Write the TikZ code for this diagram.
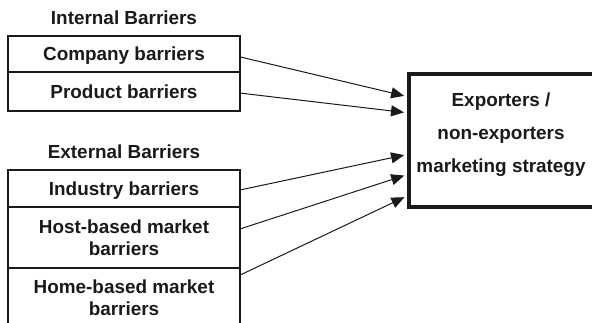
\documentclass[tikz,border=0pt]{standalone}
\usepackage{fontspec}
\setmainfont{Liberation Sans}
\usetikzlibrary{arrows.meta,calc}
\definecolor{ink}{RGB}{26,26,26}
\begin{document}
\begin{tikzpicture}[x=1bp,y=-1bp,
  every node/.style={font=\bfseries\fontsize{18.9bp}{21.5bp}\selectfont, text=ink},
  heading/.style={inner sep=0pt},
  barrier/.style={draw=ink, line width=2bp, minimum width=232bp, inner sep=0pt,
    outer sep=0pt, align=center, anchor=north west, text depth=0pt},
  target/.style={draw=ink, line width=4bp, minimum width=185bp, minimum height=133bp,
    inner sep=0pt, outer sep=0pt, anchor=north west},
  conn/.style={draw=ink, line width=1bp, -{Triangle[length=13bp,width=11bp]}, shorten >=5bp}]
\path[use as bounding box] (0,0) rectangle (592,322);
\clip (0,0) rectangle (592,322);

% group headings
\node[heading] (internal) at (124,18) {Internal Barriers};
\node[heading] (external) at (124,152) {External Barriers};

% internal barrier boxes
\node[barrier, minimum height=36bp] (company) at (8,36) {Company barriers};
\node[barrier, minimum height=39bp] (product) at (8,72) {Product barriers};

% external barrier boxes
\node[barrier, minimum height=37bp] (industry) at (8,170) {Industry barriers};
\node[barrier, minimum height=61bp] (host) at (8,207) {Host-based market\\barriers};
\node[barrier, minimum height=59bp] (home) at (8,268) {Home-based market\\barriers};

% outcome box
\node[target] (strat) at (409,74) {};
\node[inner sep=0pt, align=center, font=\bfseries\fontsize{18.9bp}{33bp}\selectfont]
  (strattext) at (501,135) {Exporters /\\non-exporters\\marketing strategy};

% connectors
\draw[conn] ($(company.north east)!0.58!(company.south east)$) -- ($(strat.north west)!0.173!(strat.south west)$);
\draw[conn] ($(product.north east)!0.54!(product.south east)$) -- ($(strat.north west)!0.293!(strat.south west)$);
\draw[conn] ($(industry.north east)!0.54!(industry.south east)$) -- ($(strat.north west)!0.602!(strat.south west)$);
\draw[conn] ($(host.north east)!0.36!(host.south east)$) -- ($(strat.north west)!0.752!(strat.south west)$);
\draw[conn] ($(home.north east)!0.12!(home.south east)$) -- ($(strat.north west)!0.91!(strat.south west)$);
\end{tikzpicture}
\end{document}
